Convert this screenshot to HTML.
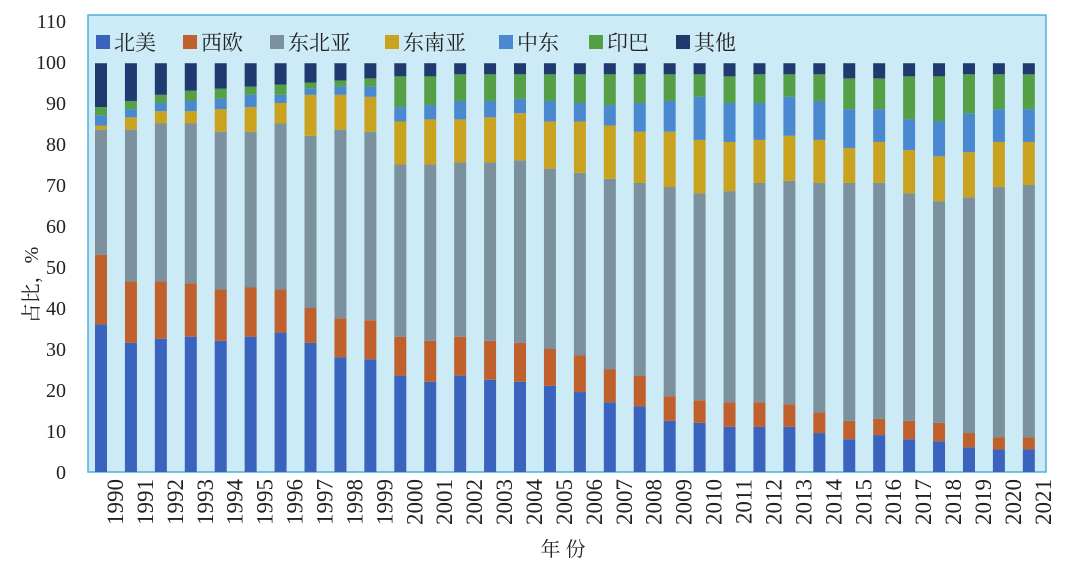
<!DOCTYPE html>
<html><head><meta charset="utf-8">
<style>
body{margin:0;background:#fff;}
svg text{font-family:"Liberation Serif","Noto Serif CJK SC",serif;}
</style></head>
<body>
<svg id="chart" width="1080" height="564" xmlns="http://www.w3.org/2000/svg">
<rect x="88" y="15" width="958" height="457" fill="#cdeaf7" stroke="#4fb0dc" stroke-width="1.5"/>
<g id="yaxis"></g>
<g id="bars"></g>
<g id="xaxis"></g>
<g id="legend"></g>
<text x="38" y="285" font-size="20" text-anchor="middle" transform="rotate(-90 38 285)" fill="#222">占比，%</text>
<text x="563" y="556" font-size="20" text-anchor="middle" fill="#222">年 份</text>
</svg>
<script>
const years=[1990,1991,1992,1993,1994,1995,1996,1997,1998,1999,2000,2001,2002,2003,2004,2005,2006,2007,2008,2009,2010,2011,2012,2013,2014,2015,2016,2017,2018,2019,2020,2021];
const seriesNames=["北美","西欧","东北亚","东南亚","中东","印巴","其他"];
const northAmerica=[36,31.5,32.5,33,32,33,34,31.5,28,27.5,23.5,22,23.5,22.5,22,21,19.5,17,16,12.5,12,11,11,11,9.5,8,9,8,7.5,6,5.5,5.5];
const westEurope=[17,15,14,13,12.5,12,10.5,8.5,9.5,9.5,9.5,10,9.5,9.5,9.5,9,9,8,7.5,6,5.5,6,6,5.5,5,4.5,4,4.5,4.5,3.5,3,3];
const northeastAsia=[30.5,37,38.5,39,38.5,38,40.5,42,46,46,42,43,42.5,43.5,44.5,44,44.5,46.5,47,51,50.5,51.5,53.5,54.5,56,58,57.5,55.5,54,57.5,61,61.5];
const southeastAsia=[1,3,3,3,5.5,6,5,10,8.5,8.5,10.5,11,10.5,11,11.5,11.5,12.5,13,12.5,13.5,13,12,10.5,11,10.5,8.5,10,10.5,11,11,11,10.5];
const middleEast=[2.5,2,2,2.5,2.5,3,2,1.5,2,2.5,3.5,3.5,4.5,4,3.5,5,4.5,5,7,7.5,10.5,9.5,9,9.5,9.5,9.5,8,7.5,8.5,9.5,8,8];
const indiaPakistan=[2,2,2,2.5,2.5,2,2.5,1.5,1.5,2,7.5,7,6.5,6.5,6,6.5,7,7.5,7,6.5,5.5,6.5,7,5.5,6.5,7.5,7.5,10.5,11,9.5,8.5,8.5];
const others=[10.7,9.2,7.7,6.7,6.2,5.7,5.2,4.7,4.2,3.7,3.2,3.2,2.7,2.7,2.7,2.7,2.7,2.7,2.7,2.7,2.7,3.2,2.7,2.7,2.7,3.7,3.7,3.2,3.2,2.7,2.7,2.7];
const yTicks=[0,10,20,30,40,50,60,70,80,90,100,110];
const series=[northAmerica,westEurope,northeastAsia,southeastAsia,middleEast,indiaPakistan,others];
const colors=["#3a63be","#c0602c","#7b919d","#c9a320","#4a88d0","#55a046","#1f3a6e"];
const NS="http://www.w3.org/2000/svg";
const y=v=>472-v*4.1;
const x=i=>101+i*29.93;
const BW=12;
function mk(tag,attrs,parent){const e=document.createElementNS(NS,tag);for(const k in attrs)e.setAttribute(k,attrs[k]);parent.appendChild(e);return e;}
const ya=document.getElementById('yaxis');
yTicks.forEach(t=>{const e=mk('text',{x:66,y:y(t)+7,'font-size':20,'text-anchor':'end',fill:'#222'},ya);e.textContent=t;

});
const bars=document.getElementById('bars');
years.forEach((yr,i)=>{let cum=0;series.forEach((s,j)=>{const v=s[i];const r=mk('rect',{x:x(i)-BW/2,y:y(cum+v),width:BW,height:v*4.1,fill:colors[j]},bars);


cum+=v;});});
const xa=document.getElementById('xaxis');
years.forEach((yr,i)=>{const cx=x(i)+22,cy=479;const e=mk('text',{x:cx,y:cy,'font-size':23,'text-anchor':'end',fill:'#222',transform:`rotate(-90 ${cx} ${cy})`},xa);e.textContent=yr;

});
const lg=document.getElementById('legend');
const lx=[96,183,270,385,499,589,676];
seriesNames.forEach((n,j)=>{const g=mk('g',{},lg);


mk('rect',{x:lx[j],y:35,width:14,height:14,fill:colors[j]},g);
const t=mk('text',{x:lx[j]+18,y:50,'font-size':21,fill:'#222'},g);t.textContent=n;});
</script>
</body></html>
